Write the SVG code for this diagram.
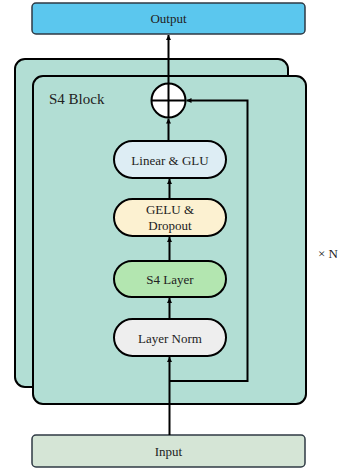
<svg xmlns="http://www.w3.org/2000/svg" width="340" height="470" viewBox="0 0 340 470">
  <defs>
    <marker id="arrow" viewBox="0 0 10 10" refX="10" refY="5" markerWidth="5" markerHeight="5" orient="auto" markerUnits="userSpaceOnUse">
      <path d="M0,0 L10,5 L0,10 z" fill="#000"/>
    </marker>
    <style>
      .label { font-family: "Liberation Serif", "Times New Roman", serif; font-size: 13px; fill: #222; text-anchor: middle; }
      .card { fill: #b2ded4; stroke: #000; stroke-width: 2; }
      .io { stroke: #2f3a44; stroke-width: 1.5; }
      .pill { stroke: #000; stroke-width: 2; }
      .edge { fill: none; stroke: #000; stroke-width: 2; }
    </style>
  </defs>

  <rect width="340" height="470" fill="#fff"/>

  <!-- stacked block cards -->
  <g id="block-back">
    <rect class="card" x="15" y="59" width="273" height="328" rx="10"/>
  </g>
  <g id="block-front">
    <rect class="card" x="33" y="76" width="273" height="328" rx="10"/>
    <text x="49" y="104" class="label" style="text-anchor:start;font-size:15px">S4 Block</text>
  </g>

  <g id="output">
    <rect class="io" x="32" y="3" width="273" height="31" rx="4" fill="#5bc7ee"/>
    <text x="168.5" y="23" class="label">Output</text>
  </g>

  <g id="input">
    <rect class="io" x="32" y="435" width="273" height="32" rx="4" fill="#d5e5d6"/>
    <text x="168.5" y="456" class="label">Input</text>
  </g>

  <g id="linear-glu">
    <rect class="pill" x="114" y="141" width="112" height="37" rx="18.5" fill="#ddedf4"/>
    <text x="170" y="164.5" class="label">Linear &amp; GLU</text>
  </g>

  <g id="gelu-dropout">
    <rect class="pill" x="114" y="199" width="112" height="37" rx="18.5" fill="#fcf1d1"/>
    <text x="170" y="214" class="label">GELU &amp;</text>
    <text x="170" y="229.5" class="label">Dropout</text>
  </g>

  <g id="s4-layer">
    <rect class="pill" x="114" y="261" width="112" height="36" rx="18" fill="#b3e6b0"/>
    <text x="170" y="283.5" class="label">S4 Layer</text>
  </g>

  <g id="layer-norm">
    <rect class="pill" x="114" y="319" width="112" height="37" rx="18.5" fill="#eeeeee"/>
    <text x="170" y="342.5" class="label">Layer Norm</text>
  </g>

  <g id="add">
    <circle cx="168.5" cy="100.5" r="17" fill="#fff" stroke="#000" stroke-width="2"/>
    <line x1="151.5" y1="100.5" x2="185.5" y2="100.5" stroke="#000" stroke-width="2"/>
    <line x1="168.5" y1="83.5" x2="168.5" y2="117.5" stroke="#000" stroke-width="2"/>
  </g>

  <text x="318" y="258" class="label" style="text-anchor:start">× N</text>

  <g id="connectors">
    <line class="edge" x1="169.5" y1="435" x2="169.5" y2="357" marker-end="url(#arrow)"/>
    <line class="edge" x1="169.5" y1="319" x2="169.5" y2="298" marker-end="url(#arrow)"/>
    <line class="edge" x1="169.5" y1="261" x2="169.5" y2="237" marker-end="url(#arrow)"/>
    <line class="edge" x1="169.5" y1="199" x2="169.5" y2="179" marker-end="url(#arrow)"/>
    <line class="edge" x1="168.5" y1="141" x2="168.5" y2="118.5" marker-end="url(#arrow)"/>
    <line class="edge" x1="168.5" y1="83.5" x2="168.5" y2="35" marker-end="url(#arrow)"/>
    <polyline class="edge" points="169.5,381 247.5,381 247.5,100.5 186.5,100.5" marker-end="url(#arrow)"/>
  </g>
</svg>
